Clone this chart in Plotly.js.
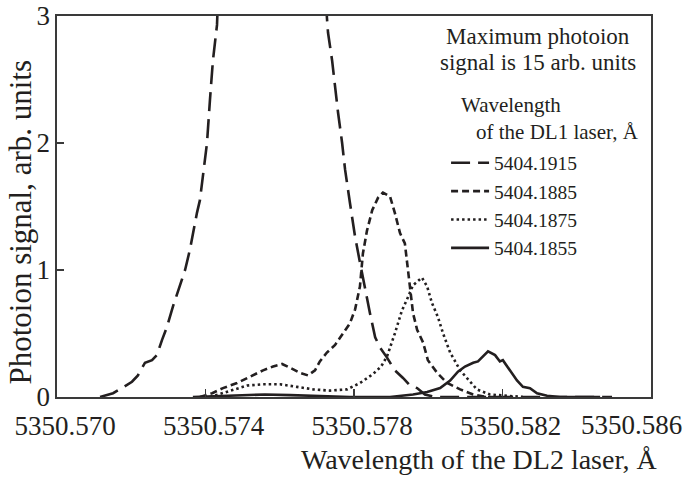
<!DOCTYPE html>
<html>
<head>
<meta charset="utf-8">
<script src="https://cdn.plot.ly/plotly-3.0.1.min.js"></script>
<style>html,body{margin:0;padding:0;background:#fff;}#chart{width:685px;height:478px;}</style>
</head>
<body>
<div id="chart"></div>
<script>
// Wavelength of DL2 laser (Å) and photoion signal (arb. units) for each DL1 wavelength
const x1915 = [5350.57116,5350.57151,5350.57175,5350.57202,5350.57218,5350.57237,5350.57256,5350.57269,5350.57283,5350.57296,5350.57312,5350.57326,5350.57345,5350.57358,5350.57366,5350.57377,5350.57385,5350.57404,5350.57412,5350.57420,5350.57431,5350.57453,5350.57493,5350.57547,5350.57579,5350.57628,5350.57681,5350.57708,5350.57727,5350.57730,5350.57741,5350.57749,5350.57757,5350.57768,5350.57776,5350.57789,5350.57803,5350.57816,5350.57830,5350.57843,5350.57857,5350.57870,5350.57889,5350.57910,5350.57932,5350.57951,5350.57970,5350.57991,5350.58018,5350.58495];
const y1915 = [0,0.03,0.07,0.12,0.17,0.27,0.29,0.33,0.45,0.55,0.71,0.84,1.0,1.16,1.29,1.45,1.55,2.0,2.34,2.65,2.93,4.5,9,14,15,13,8,4.5,2.99,2.87,2.65,2.44,2.24,2.0,1.79,1.53,1.26,1.06,0.84,0.66,0.47,0.39,0.31,0.21,0.15,0.09,0.07,0.02,0,0];

const x1885 = [5350.57385,5350.57418,5350.57447,5350.57485,5350.57520,5350.57555,5350.57582,5350.57606,5350.57628,5350.57655,5350.57676,5350.57695,5350.57708,5350.57727,5350.57749,5350.57768,5350.57789,5350.57803,5350.57816,5350.57824,5350.57835,5350.57849,5350.57865,5350.57878,5350.57897,5350.57910,5350.57924,5350.57937,5350.57946,5350.57951,5350.57959,5350.57970,5350.57986,5350.57999,5350.58024,5350.58051,5350.58086,5350.58121,5350.58158,5350.58193];
const y1885 = [0,0.03,0.07,0.11,0.16,0.21,0.24,0.26,0.23,0.19,0.17,0.21,0.28,0.35,0.41,0.49,0.58,0.69,0.87,1.13,1.31,1.47,1.57,1.61,1.58,1.45,1.29,1.21,1.0,0.87,0.66,0.53,0.43,0.29,0.19,0.11,0.06,0.02,0,0];

const x1875 = [5350.57412,5350.57434,5350.57466,5350.57512,5350.57555,5350.57601,5350.57646,5350.57690,5350.57735,5350.57781,5350.57816,5350.57851,5350.57873,5350.57889,5350.57910,5350.57929,5350.57946,5350.57959,5350.57983,5350.57997,5350.58010,5350.58026,5350.58040,5350.58059,5350.58086,5350.58113,5350.58131,5350.58166,5350.58255];
const y1875 = [0,0.02,0.05,0.09,0.10,0.10,0.08,0.06,0.05,0.06,0.11,0.18,0.24,0.32,0.5,0.68,0.79,0.88,0.94,0.87,0.74,0.63,0.5,0.35,0.21,0.12,0.06,0.02,0];

const x1855 = [5350.57366,5350.57493,5350.57560,5350.57628,5350.57708,5350.57789,5350.57897,5350.57959,5350.57997,5350.58032,5350.58059,5350.58080,5350.58099,5350.58121,5350.58134,5350.58145,5350.58161,5350.58180,5350.58193,5350.58201,5350.58220,5350.58239,5350.58255,5350.58274,5350.58293,5350.58320,5350.58355,5350.58463];
const y1855 = [0,0.01,0.02,0.015,0.005,0,0,0.02,0.04,0.07,0.13,0.2,0.24,0.27,0.28,0.31,0.36,0.33,0.28,0.29,0.21,0.13,0.08,0.07,0.03,0.01,0,0];

const seriesNames = ['5404.1915','5404.1885','5404.1875','5404.1855'];
const legendTitleLines = ['Wavelength','of the DL1 laser, Å'];
const xTickVals = [5350.570,5350.574,5350.578,5350.582];
const xTickText = ['5350.570','5350.574','5350.578','5350.582'];
const lastXTickText = '5350.586';
const yTickVals = [0,1,2,3];

const FONT = '"Liberation Serif", "Times New Roman", serif';
const INK = '#231f20';

const traces = [
  {x:x1915, y:y1915, name:seriesNames[0], line:{color:INK, width:2.6, dash:'19px,8px'}},
  {x:x1885, y:y1885, name:seriesNames[1], line:{color:INK, width:2.6, dash:'7px,4px'}},
  {x:x1875, y:y1875, name:seriesNames[2], line:{color:INK, width:2.6, dash:'2.5px,3px'}},
  {x:x1855, y:y1855, name:seriesNames[3], line:{color:INK, width:2.6}}
].map(t => Object.assign({type:'scatter', mode:'lines', hoverinfo:'skip'}, t));

const layout = {
  width:685, height:478,
  margin:{l:57, r:34, t:16, b:81, pad:0},
  paper_bgcolor:'#fff', plot_bgcolor:'#fff',
  font:{family:FONT, color:INK, size:22},
  showlegend:true,
  legend:{
    x:0.655, y:0.665, xanchor:'left', yanchor:'top',
    bgcolor:'rgba(0,0,0,0)', borderwidth:0,
    font:{family:FONT, size:19.5, color:INK},
    itemwidth:38, tracegroupgap:0
  },
  xaxis:{
    range:[5350.570, 5350.586], showgrid:false, zeroline:false,
    showline:true, mirror:true, linecolor:'#3a3a3a', linewidth:1.6,
    ticks:'inside', ticklen:8, tickwidth:1.4, tickcolor:'#3a3a3a',
    tickvals:xTickVals, ticktext:xTickText, ticklabelshift:8, ticklabelstandoff:4,
    tickfont:{family:FONT, size:27, color:INK}
  },
  yaxis:{
    range:[0, 3], showgrid:false, zeroline:false,
    showline:true, mirror:true, linecolor:'#3a3a3a', linewidth:1.6,
    ticks:'inside', ticklen:7, tickwidth:1.4, tickcolor:'#3a3a3a',
    tickvals:yTickVals, tickfont:{family:FONT, size:27, color:INK}
  },
  annotations:[
    {xref:'paper', yref:'paper', x:0.81, y:0.945, text:'Maximum photoion', showarrow:false, xanchor:'center', yanchor:'middle', font:{family:FONT, size:23, color:INK}},
    {xref:'paper', yref:'paper', x:0.81, y:0.877, text:'signal is 15 arb. units', showarrow:false, xanchor:'center', yanchor:'middle', font:{family:FONT, size:23, color:INK}},
    {xref:'paper', yref:'paper', x:0.676, y:0.766, text:legendTitleLines[0], showarrow:false, xanchor:'left', yanchor:'middle', font:{family:FONT, size:21, color:INK}},
    {xref:'paper', yref:'paper', x:0.676, y:0.696, xshift:15, text:legendTitleLines[1], showarrow:false, xanchor:'left', yanchor:'middle', font:{family:FONT, size:21, color:INK}},
    {xref:'paper', yref:'paper', x:0.968, y:-0.0735, text:lastXTickText, showarrow:false, xanchor:'center', yanchor:'middle', font:{family:FONT, size:27, color:INK}},
    {xref:'paper', yref:'paper', x:0.712, y:-0.165, text:'Wavelength of the DL2 laser, Å', showarrow:false, xanchor:'center', yanchor:'middle', font:{family:FONT, size:28, color:INK}},
    {xref:'paper', yref:'paper', x:-0.0615, y:0.459, text:'Photoion signal, arb. units', textangle:-90, showarrow:false, xanchor:'center', yanchor:'middle', font:{family:FONT, size:31, color:INK}}
  ]
};

Plotly.newPlot('chart', traces, layout, {displayModeBar:false, staticPlot:true});
</script>
</body>
</html>
